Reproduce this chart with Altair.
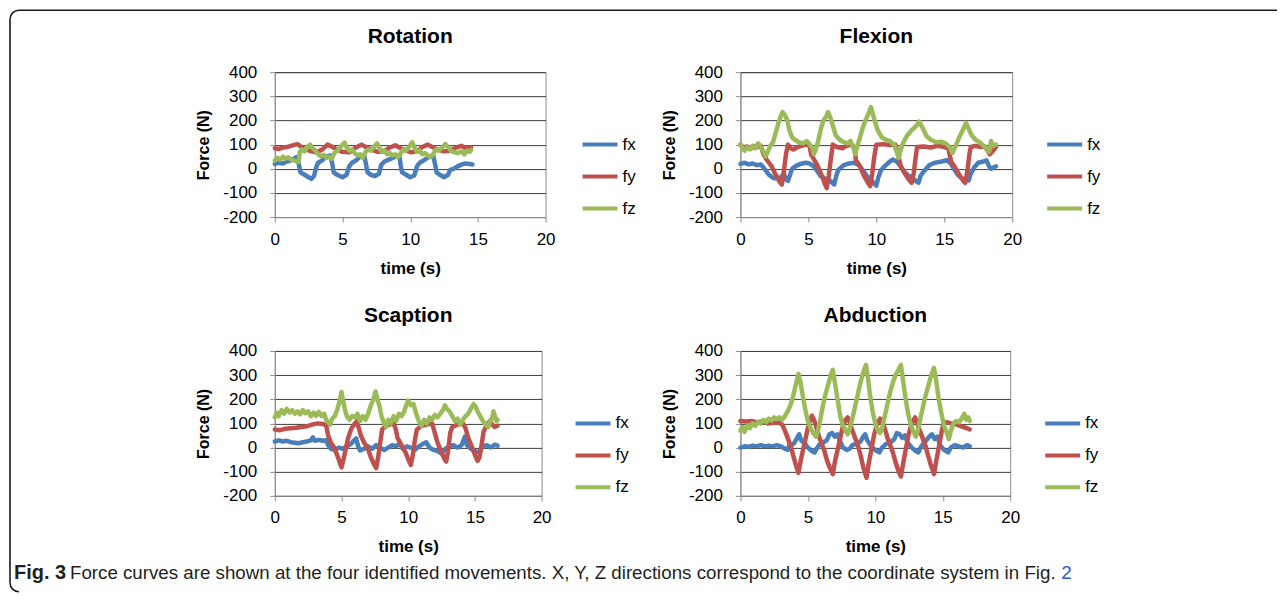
import altair as alt
import pandas as pd

SERIES = ["fx", "fy", "fz"]
COLORS = ["#4a7ebb", "#c0504d", "#9bbb59"]
X_TICKS = [0, 5, 10, 15, 20]
Y_TICKS = [-200, -100, 0, 100, 200, 300, 400]
TITLES = ["Rotation", "Flexion", "Scaption", "Abduction"]

ROT_FX = [(0,20),(0.3,25),(0.6,22),(0.9,30),(1.2,35),(1.5,45),(1.7,50),(1.8,10),(1.9,-15),(2.2,-25),(2.5,-35),(2.7,-42),(2.9,-30),(3.05,5),(3.2,25),(3.5,35),(3.8,50),(4.1,55),(4.25,20),(4.35,-15),(4.6,-25),(5.0,-35),(5.3,-25),(5.5,10),(5.7,25),(6.0,35),(6.3,50),(6.6,55),(6.75,15),(6.85,-15),(7.1,-25),(7.4,-30),(7.7,-20),(7.85,15),(8.1,30),(8.5,40),(8.9,50),(9.2,55),(9.3,15),(9.4,-15),(9.7,-25),(10.0,-35),(10.3,-28),(10.5,10),(10.7,25),(11.0,35),(11.4,50),(11.7,55),(11.85,15),(11.95,-15),(12.2,-25),(12.5,-35),(12.8,-25),(12.95,-5),(13.2,0),(13.5,10),(13.8,18),(14.1,22),(14.4,20),(14.6,18)]
ROT_FY = [(0,85),(0.3,82),(0.6,88),(0.9,90),(1.2,95),(1.5,100),(1.7,102),(2.0,88),(2.3,80),(2.7,72),(3.1,68),(3.5,80),(3.9,100),(4.2,92),(4.6,80),(5.0,70),(5.5,68),(5.9,85),(6.4,100),(6.8,88),(7.2,78),(7.6,70),(8.0,72),(8.5,88),(8.9,97),(9.3,85),(9.7,75),(10.1,68),(10.5,72),(10.9,90),(11.3,100),(11.7,88),(12.1,78),(12.5,72),(12.9,75),(13.4,88),(13.8,95),(14.1,85),(14.5,88)]
ROT_FZ = [(0,35),(0.2,45),(0.4,38),(0.6,50),(0.8,42),(1.0,48),(1.2,38),(1.4,35),(1.6,30),(1.75,28),(1.85,70),(2.0,80),(2.2,72),(2.4,90),(2.6,100),(2.8,85),(3.0,75),(3.2,60),(3.4,52),(3.6,58),(3.8,45),(4.0,50),(4.2,42),(4.4,65),(4.6,75),(4.8,85),(5.0,100),(5.15,108),(5.3,90),(5.5,75),(5.7,80),(5.9,65),(6.1,55),(6.3,60),(6.5,45),(6.7,70),(6.9,80),(7.1,75),(7.3,90),(7.55,105),(7.7,90),(7.9,70),(8.1,75),(8.3,60),(8.5,65),(8.7,55),(8.9,60),(9.1,48),(9.3,65),(9.5,80),(9.7,75),(9.9,90),(10.15,110),(10.3,90),(10.5,70),(10.7,75),(10.9,60),(11.1,65),(11.3,55),(11.5,48),(11.7,60),(11.9,80),(12.1,75),(12.3,85),(12.6,102),(12.8,90),(13.0,75),(13.2,70),(13.5,65),(13.8,72),(14.0,60),(14.2,75),(14.4,70),(14.5,78)]

FLEX_FX = [(0,20),(0.3,25),(0.6,18),(0.9,22),(1.2,15),(1.5,18),(1.7,5),(1.9,-10),(2.1,-25),(2.4,-38),(2.7,-40),(3.0,-35),(3.2,-20),(3.35,-45),(3.5,-50),(3.65,-25),(3.8,0),(4.1,12),(4.4,20),(4.8,25),(5.1,22),(5.4,10),(5.6,-5),(5.9,-30),(6.2,-40),(6.5,-45),(6.7,-55),(6.9,-65),(7.05,-30),(7.2,-5),(7.6,15),(8.0,22),(8.4,25),(8.7,15),(9.0,-5),(9.3,-30),(9.6,-45),(9.8,-60),(10.0,-70),(10.15,-35),(10.35,-5),(10.7,15),(11.0,30),(11.2,38),(11.5,30),(11.8,10),(12.1,-15),(12.4,-30),(12.7,-40),(12.9,-50),(13.1,-58),(13.25,-30),(13.5,-10),(13.9,15),(14.3,25),(14.8,30),(15.2,35),(15.5,20),(15.7,0),(16.0,-25),(16.3,-40),(16.6,-45),(16.8,-48),(16.95,-20),(17.2,5),(17.5,25),(17.9,30),(18.1,35),(18.3,10),(18.45,0),(18.7,8),(18.8,10)]
FLEX_FY = [(0,100),(0.2,88),(0.5,92),(0.8,85),(1.1,95),(1.3,90),(1.5,95),(1.7,60),(1.9,40),(2.1,25),(2.3,10),(2.5,-15),(2.7,-35),(2.9,-55),(3.05,-65),(3.2,-10),(3.35,60),(3.5,100),(3.7,85),(3.9,80),(4.2,90),(4.5,95),(4.8,100),(5.1,95),(5.2,60),(5.4,40),(5.7,10),(6.0,-30),(6.2,-60),(6.35,-80),(6.5,-30),(6.65,40),(6.8,100),(7.1,90),(7.5,85),(7.8,95),(8.2,100),(8.4,85),(8.5,35),(8.8,10),(9.1,-30),(9.4,-60),(9.55,-72),(9.7,-20),(9.85,50),(10.0,100),(10.5,102),(11.0,98),(11.4,100),(11.6,60),(11.8,10),(12.1,-20),(12.4,-45),(12.6,-58),(12.75,-20),(12.9,50),(13.0,90),(13.5,92),(14.0,88),(14.5,95),(15.0,90),(15.3,85),(15.5,30),(15.8,5),(16.1,-25),(16.4,-50),(16.55,-58),(16.7,-10),(16.85,60),(16.95,90),(17.3,95),(17.7,90),(18.0,92),(18.2,75),(18.35,60),(18.6,75),(18.8,90)]
FLEX_FZ = [(0,100),(0.15,85),(0.3,75),(0.5,90),(0.7,80),(0.9,95),(1.1,85),(1.3,105),(1.5,90),(1.7,70),(1.85,50),(2.0,70),(2.2,95),(2.4,110),(2.6,150),(2.8,190),(2.95,215),(3.1,235),(3.3,220),(3.45,200),(3.6,160),(3.8,130),(4.0,120),(4.3,110),(4.6,105),(4.9,115),(5.1,100),(5.3,85),(5.4,60),(5.55,80),(5.7,110),(5.9,160),(6.1,200),(6.3,215),(6.45,235),(6.6,215),(6.8,180),(7.0,140),(7.3,120),(7.6,110),(7.9,105),(8.1,115),(8.3,90),(8.45,60),(8.6,95),(8.8,130),(9.0,170),(9.2,200),(9.4,225),(9.6,255),(9.75,225),(9.9,195),(10.1,160),(10.4,130),(10.7,120),(11.0,115),(11.3,100),(11.5,70),(11.65,45),(11.8,80),(12.0,110),(12.3,140),(12.6,160),(12.9,175),(13.15,195),(13.4,170),(13.7,135),(14.0,120),(14.4,110),(14.8,112),(15.1,105),(15.4,90),(15.6,65),(15.8,90),(16.1,130),(16.4,165),(16.6,190),(16.8,165),(17.0,140),(17.3,120),(17.6,110),(17.9,95),(18.1,85),(18.3,70),(18.45,115),(18.6,95),(18.8,100)]

SCAP_FX = [(0,25),(0.3,30),(0.6,25),(0.9,28),(1.2,22),(1.5,20),(1.8,18),(2.1,22),(2.4,25),(2.7,30),(2.85,42),(3.0,28),(3.3,32),(3.6,28),(3.85,30),(4.0,10),(4.2,-5),(4.5,-10),(4.8,0),(5.1,-5),(5.4,5),(5.7,15),(5.95,30),(6.1,38),(6.25,5),(6.4,-12),(6.7,-5),(7.0,5),(7.3,-5),(7.6,10),(7.9,0),(8.2,-10),(8.5,0),(8.8,10),(9.1,5),(9.35,18),(9.6,-5),(9.9,5),(10.2,0),(10.5,-10),(10.8,5),(11.1,15),(11.35,22),(11.6,0),(11.9,-10),(12.2,-15),(12.5,-25),(12.8,-5),(13.1,5),(13.4,10),(13.7,0),(14.0,10),(14.25,45),(14.4,10),(14.7,-5),(15.0,-15),(15.3,-20),(15.6,5),(15.9,10),(16.2,0),(16.5,12),(16.7,8)]
SCAP_FY = [(0,75),(0.4,72),(0.8,78),(1.2,80),(1.6,82),(2.0,85),(2.4,88),(2.8,95),(3.2,100),(3.6,98),(3.85,92),(4.0,50),(4.2,20),(4.4,5),(4.6,-20),(4.8,-50),(5.0,-82),(5.15,-50),(5.3,-10),(5.5,40),(5.75,80),(6.0,100),(6.15,108),(6.3,80),(6.45,50),(6.7,20),(6.95,0),(7.2,-40),(7.45,-70),(7.6,-85),(7.75,-40),(7.9,20),(8.05,75),(8.3,90),(8.6,95),(8.9,100),(9.05,80),(9.2,40),(9.5,10),(9.8,-20),(10.05,-55),(10.2,-72),(10.35,-30),(10.5,30),(10.65,75),(11.0,90),(11.4,95),(11.8,100),(12.0,60),(12.2,20),(12.5,-20),(12.7,-45),(12.85,-58),(13.0,-10),(13.15,60),(13.3,85),(13.7,95),(14.1,100),(14.3,80),(14.5,40),(14.8,0),(15.0,-30),(15.2,-55),(15.35,-40),(15.5,10),(15.65,65),(15.9,95),(16.1,108),(16.3,95),(16.5,85),(16.7,90)]
SCAP_FZ = [(0,125),(0.15,145),(0.3,130),(0.5,155),(0.7,140),(0.9,160),(1.1,145),(1.3,155),(1.5,140),(1.7,150),(1.9,138),(2.1,155),(2.3,142),(2.5,150),(2.7,130),(2.9,145),(3.1,132),(3.3,148),(3.5,130),(3.7,140),(3.85,115),(4.0,105),(4.15,95),(4.3,120),(4.5,130),(4.7,160),(4.85,190),(5.0,230),(5.1,200),(5.25,160),(5.4,130),(5.6,115),(5.8,130),(6.0,125),(6.2,140),(6.4,110),(6.6,130),(6.8,115),(7.0,140),(7.2,175),(7.4,200),(7.55,232),(7.7,200),(7.85,170),(8.0,130),(8.2,100),(8.35,85),(8.5,115),(8.7,100),(8.9,130),(9.1,110),(9.3,140),(9.5,130),(9.7,150),(9.85,175),(10.0,195),(10.2,175),(10.4,180),(10.6,140),(10.8,110),(11.0,90),(11.2,115),(11.4,100),(11.6,125),(11.8,115),(12.0,135),(12.2,125),(12.4,140),(12.6,155),(12.75,175),(12.9,160),(13.1,150),(13.3,130),(13.5,110),(13.7,120),(13.9,95),(14.1,115),(14.3,130),(14.5,140),(14.7,160),(14.9,180),(15.05,170),(15.2,150),(15.4,130),(15.6,110),(15.8,95),(16.0,85),(16.15,110),(16.3,125),(16.4,150),(16.5,130),(16.6,110),(16.7,115)]

ABD_FX = [(0,0),(0.3,5),(0.6,3),(0.9,8),(1.2,5),(1.5,10),(1.8,5),(2.1,8),(2.4,5),(2.7,10),(3.0,5),(3.3,-5),(3.5,-10),(3.65,15),(3.8,10),(4.0,20),(4.2,40),(4.35,55),(4.5,30),(4.8,15),(5.0,0),(5.3,-15),(5.5,-20),(5.7,0),(5.9,15),(6.1,20),(6.4,30),(6.6,55),(6.8,60),(7.0,45),(7.2,55),(7.4,25),(7.6,0),(7.9,-10),(8.1,-5),(8.3,10),(8.6,15),(8.9,25),(9.1,45),(9.25,55),(9.4,30),(9.7,5),(10.0,-10),(10.3,-20),(10.5,0),(10.8,15),(11.1,20),(11.4,35),(11.6,60),(11.8,55),(12.0,40),(12.2,50),(12.4,20),(12.7,0),(13.0,-15),(13.2,-20),(13.4,5),(13.7,25),(14.0,45),(14.2,55),(14.4,35),(14.6,45),(14.8,10),(15.1,-10),(15.4,-20),(15.6,0),(15.9,10),(16.2,5),(16.5,0),(16.8,10),(17.0,5)]
ABD_FY = [(0,110),(0.4,108),(0.8,110),(1.2,105),(1.6,108),(2.0,100),(2.4,102),(2.8,105),(3.1,95),(3.3,70),(3.5,40),(3.7,10),(3.9,-30),(4.1,-70),(4.3,-105),(4.45,-60),(4.6,-20),(4.8,30),(5.0,80),(5.15,110),(5.3,132),(5.45,115),(5.6,90),(5.8,50),(6.0,20),(6.2,-10),(6.4,-50),(6.6,-80),(6.85,-110),(7.0,-60),(7.2,-10),(7.4,40),(7.6,90),(7.8,115),(7.95,125),(8.1,105),(8.3,70),(8.5,40),(8.7,10),(8.9,-30),(9.1,-80),(9.35,-125),(9.5,-70),(9.7,-10),(9.9,50),(10.1,90),(10.35,120),(10.5,105),(10.7,80),(10.9,40),(11.1,10),(11.3,-20),(11.5,-60),(11.7,-95),(11.9,-120),(12.05,-70),(12.25,-10),(12.45,50),(12.7,100),(12.95,125),(13.1,100),(13.3,70),(13.5,40),(13.7,10),(13.9,-30),(14.1,-70),(14.35,-110),(14.5,-60),(14.7,0),(14.9,60),(15.05,100),(15.3,105),(15.6,100),(15.9,98),(16.2,92),(16.5,85),(16.8,80),(17.0,75)]
ABD_FZ = [(0,70),(0.15,85),(0.3,65),(0.5,90),(0.7,80),(0.9,100),(1.1,90),(1.3,105),(1.5,100),(1.7,115),(1.9,105),(2.1,120),(2.3,112),(2.5,125),(2.7,118),(2.9,125),(3.1,115),(3.3,130),(3.5,150),(3.7,175),(3.9,210),(4.1,260),(4.3,305),(4.45,270),(4.6,220),(4.8,160),(5.0,110),(5.2,80),(5.4,60),(5.6,45),(5.75,70),(5.9,110),(6.1,170),(6.3,220),(6.5,260),(6.7,300),(6.85,322),(7.0,270),(7.2,200),(7.4,130),(7.6,90),(7.8,70),(7.95,55),(8.1,80),(8.3,120),(8.5,170),(8.7,220),(8.9,270),(9.1,310),(9.3,342),(9.45,290),(9.6,220),(9.8,150),(10.0,100),(10.2,70),(10.35,60),(10.5,80),(10.7,130),(10.9,180),(11.1,230),(11.3,270),(11.5,300),(11.7,320),(11.9,342),(12.05,280),(12.2,220),(12.4,150),(12.6,100),(12.8,70),(13.0,45),(13.15,70),(13.3,110),(13.5,160),(13.7,210),(13.9,250),(14.1,290),(14.35,330),(14.5,280),(14.7,200),(14.9,140),(15.1,90),(15.3,60),(15.45,35),(15.6,70),(15.8,100),(16.0,110),(16.2,105),(16.4,120),(16.6,140),(16.75,115),(16.9,125),(17.0,110)]

CAPTION_BOLD = "Fig. 3"
CAPTION_TEXT = "Force curves are shown at the four identified movements. X, Y, Z directions correspond to the coordinate system in Fig."
CAPTION_LINK = "2"

FONT = "Liberation Sans"
FRAME_COLOR = "#1a1a1a"


def frame_df(fx, fy, fz):
    rows = []
    for name, pts in zip(SERIES, [fx, fy, fz]):
        for t, v in pts:
            rows.append({"t": t, "v": v, "series": name})
    return pd.DataFrame(rows)


one = alt.Data(values=[{}])


def text_layer(text, x, y, size, weight="normal", font=FONT, align="left", color="#000"):
    return alt.Chart(one).mark_text(text=text, font=font, fontSize=size, fontWeight=weight,
                                    align=align, baseline="alphabetic", color=color).encode(
        x=alt.value(x), y=alt.value(y))


def panel(title, fx, fy, fz, width, legend_x, legend_y, extra=None):
    df = frame_df(fx, fy, fz)
    line = alt.Chart(df).mark_line(strokeWidth=4.5, strokeJoin="round", strokeCap="round").encode(
        x=alt.X("t:Q", scale=alt.Scale(domain=[0, 20], nice=False, zero=False),
                axis=alt.Axis(values=X_TICKS, title="time (s)", grid=False, titleFontSize=17,
                              titlePadding=13, labelPadding=9, labelFlush=False)),
        y=alt.Y("v:Q", scale=alt.Scale(domain=[-200, 400], nice=False),
                axis=alt.Axis(values=Y_TICKS, title="Force (N)", grid=True, titleFontSize=16,
                              titlePadding=11, labelPadding=13, labelFlush=False,
                              labelExpr="'' + datum.value")),
        color=alt.Color("series:N", scale=alt.Scale(domain=SERIES, range=COLORS),
                        legend=alt.Legend(title=None, orient="none", legendX=legend_x, legendY=legend_y,
                                          symbolType="stroke", symbolSize=1225, symbolStrokeWidth=4,
                                          labelFontSize=17, labelFont=FONT, labelColor="#000",
                                          rowPadding=4, labelOffset=3)),
    )
    head = text_layer(title, width / 2, -29, 21, weight="bold", align="center")
    layers = [line, head] + (extra or [])
    return alt.layer(*layers).properties(width=width, height=145)


# frame: top edge, left edge and two rounded corners (relative to panel 1 origin)
R = 9
FL, FT, FB, FR = -265, -62, 520, 1003
frame_top = alt.Chart(one).mark_rule(color=FRAME_COLOR, strokeWidth=1.6).encode(
    x=alt.value(FL + R), x2=alt.value(FR), y=alt.value(FT))
frame_left = alt.Chart(one).mark_rule(color=FRAME_COLOR, strokeWidth=1.6).encode(
    x=alt.value(FL), y=alt.value(FT + R), y2=alt.value(FB - R))
corner_tl = alt.Chart(one).mark_arc(color=FRAME_COLOR, radius=R + 0.8, radius2=R - 0.8,
                                    theta=4.71239, theta2=6.28318).encode(
    x=alt.value(FL + R), y=alt.value(FT + R))
corner_bl = alt.Chart(one).mark_arc(color=FRAME_COLOR, radius=R + 0.8, radius2=R - 0.8,
                                    theta=3.14159, theta2=4.71239).encode(
    x=alt.value(FL + R), y=alt.value(FB - R))

cap_bold = text_layer(CAPTION_BOLD, -261, 228, 20, weight="bold", color="#231f20")
cap_text = text_layer(CAPTION_TEXT, -205, 228, 18.75, color="#231f20")
cap_link = text_layer(CAPTION_LINK, 787, 228, 18.75, color="#2b56d8")

p1 = panel(TITLES[0], ROT_FX, ROT_FY, ROT_FZ, 271, 306, 53, [frame_top, frame_left, corner_tl, corner_bl])
p2 = panel(TITLES[1], FLEX_FX, FLEX_FY, FLEX_FZ, 272, 305, 53)
p3 = panel(TITLES[2], SCAP_FX, SCAP_FY, SCAP_FZ, 267, 299, 53, [cap_bold, cap_text, cap_link])
p4 = panel(TITLES[3], ABD_FX, ABD_FY, ABD_FZ, 270, 303, 53)

chart = alt.concat(p1, p2, p3, p4, columns=2, spacing={"row": 134, "column": 195}, bounds="flush").resolve_scale(
    color="independent").resolve_legend(color="independent").properties(
    padding={"left": 0, "top": 0, "right": 0, "bottom": 0}
).configure_view(stroke="#8c8c8c", strokeWidth=1).configure_axis(
    labelFont=FONT, labelFontSize=17, labelColor="#000", titleFont=FONT, titleFontWeight="bold",
    titleColor="#000", domainColor="#8c8c8c", tickColor="#8c8c8c", tickSize=5, gridColor="#3c3c3c",
    gridWidth=1
)

chart.save("out.html", embed_options={"renderer": "svg", "actions": False})
